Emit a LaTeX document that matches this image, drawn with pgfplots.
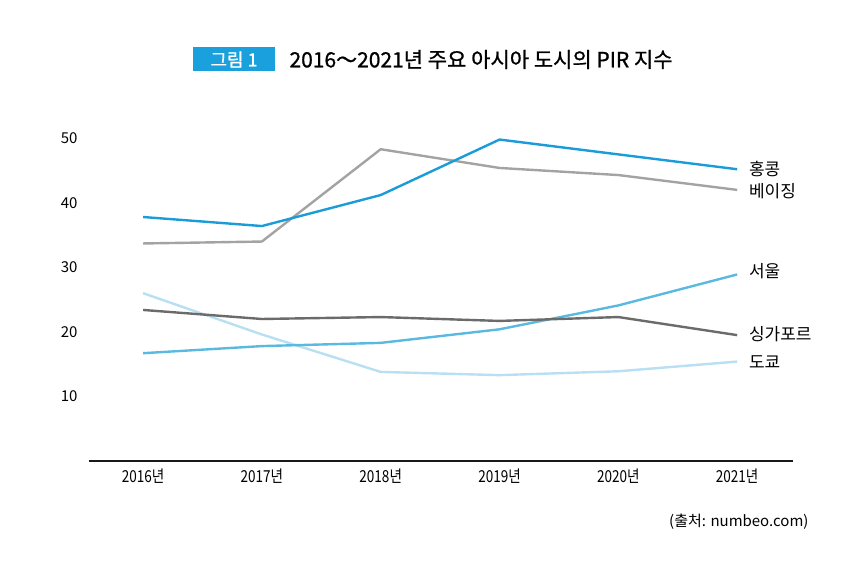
\documentclass[border=0pt]{standalone}
\usepackage{fontspec}
\setmainfont{Noto Sans CJK KR}
\newfontfamily\titlefont[FakeBold=0.9]{Noto Sans CJK KR}
\usepackage{pgfplots}
\pgfplotsset{compat=1.18}
\definecolor{hk}{HTML}{1B9BD7}
\definecolor{bj}{HTML}{A3A3A3}
\definecolor{se}{HTML}{5AB9E0}
\definecolor{sg}{HTML}{6B6B6B}
\definecolor{tk}{HTML}{B8DFF2}
\definecolor{boxc}{HTML}{1AA0DC}
\definecolor{gridc}{HTML}{E6E6E6}
\begin{document}
\begin{tikzpicture}[x=1bp,y=1bp]
\path[use as bounding box] (0,0) rectangle (850,584);
% title
\fill[boxc] (193,584-71) rectangle (275,584-47);
\node[text=white,font=\titlefont\fontsize{18bp}{20bp}\selectfont] at (234,584-59.5) {그림 1};
\node[anchor=west,font=\titlefont\fontsize{21bp}{23bp}\selectfont] at (286,584-59.5) {2016～2021년 주요 아시아 도시의 PIR 지수};
\begin{axis}[
  at={(89bp,123bp)}, anchor=south west,
  scale only axis, width=704bp, height=355bp,
  xmin=-0.455, xmax=5.47, ymin=0, ymax=55,
  axis x line*=bottom, axis y line=none,
  x axis line style={line width=2.4bp, color=black!90, -},
  xtick={0,1,2,3,4,5},
  xticklabels={2016년,2017년,2018년,2019년,2020년,2021년},
  major tick length=0pt,
  ytick={10,20,30,40,50},
  ymajorgrids, grid style={gridc, line width=0.8bp},
  x tick label style={font=\fontsize{16.5bp}{18bp}\selectfont, yshift=-4bp, xscale=0.82},
  clip=false,
  /pgf/number format/assume math mode=true,
]
\addplot[tk, line width=2.4bp] coordinates {(0,26.0) (1,19.6) (2,13.8) (3,13.3) (4,13.9) (5,15.4)};
\addplot[se, line width=2.4bp] coordinates {(0,16.7) (1,17.8) (2,18.3) (3,20.4) (4,24.1) (5,28.9)};
\addplot[sg, line width=2.4bp] coordinates {(0,23.4) (1,22.0) (2,22.3) (3,21.7) (4,22.3) (5,19.5)};
\addplot[bj, line width=2.4bp] coordinates {(0,33.7) (1,34.0) (2,48.3) (3,45.4) (4,44.3) (5,42.0)};
\addplot[hk, line width=2.4bp] coordinates {(0,37.8) (1,36.4) (2,41.2) (3,49.8) (4,47.5) (5,45.2)};
\foreach \v in {10,20,30,40,50}{
  \edef\tmp{\noexpand\node[anchor=east,font=\noexpand\fontsize{15bp}{17bp}\noexpand\selectfont] at (axis cs:-0.455,\v) [xshift=-8bp] {\v};}
  \tmp
}
\node[anchor=west,font=\fontsize{17bp}{19bp}\selectfont] at (axis cs:5.07,45.2) {홍콩};
\node[anchor=west,font=\fontsize{17bp}{19bp}\selectfont] at (axis cs:5.07,41.8) {베이징};
\node[anchor=west,font=\fontsize{17bp}{19bp}\selectfont] at (axis cs:5.07,29.4) {서울};
\node[anchor=west,font=\fontsize{17bp}{19bp}\selectfont] at (axis cs:5.07,19.6) {싱가포르};
\node[anchor=west,font=\fontsize{17bp}{19bp}\selectfont] at (axis cs:5.07,15.4) {도쿄};
\end{axis}
\node[anchor=east,font=\fontsize{15bp}{17bp}\selectfont] at (812,584-522) {(출처: numbeo.com)};
\end{tikzpicture}
\end{document}
